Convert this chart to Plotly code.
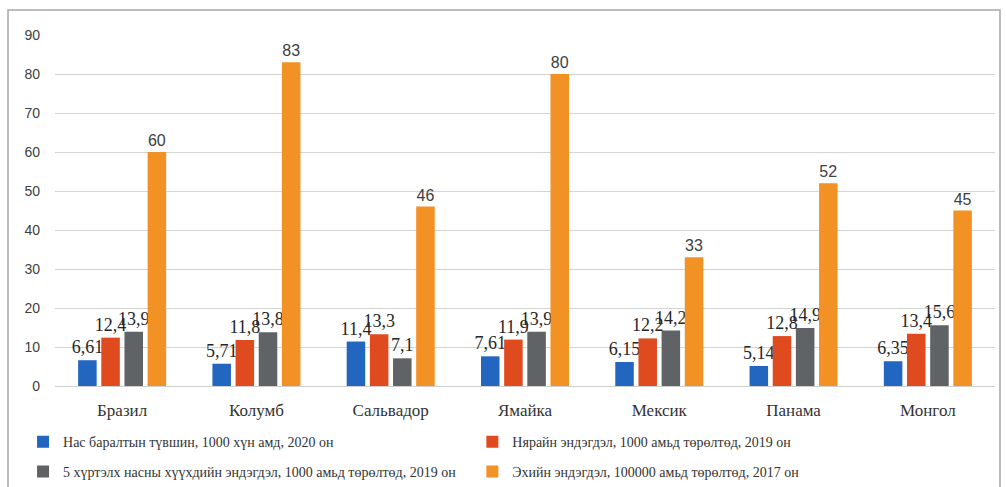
import plotly.graph_objects as go

countries = ["Бразил", "Колумб", "Сальвадор", "Ямайка", "Мексик", "Панама", "Монгол"]

series_names = [
    "Нас баралтын түвшин, 1000 хүн амд, 2020 он",
    "Нярайн эндэгдэл, 1000 амьд төрөлтөд, 2019 он",
    "5 хүртэлх насны хүүхдийн эндэгдэл, 1000 амьд төрөлтөд, 2019 он",
    "Эхийн эндэгдэл, 100000 амьд төрөлтөд, 2017 он",
]

mortality_rate = [6.61, 5.71, 11.4, 7.61, 6.15, 5.14, 6.35]
infant_mortality = [12.4, 11.8, 13.3, 11.9, 12.2, 12.8, 13.4]
under5_mortality = [13.9, 13.8, 7.1, 13.9, 14.2, 14.9, 15.6]
maternal_mortality = [60, 83, 46, 80, 33, 52, 45]

colors = ["#2366c0", "#e04a1f", "#5f6366", "#f39224"]
y_ticks = [0, 10, 20, 30, 40, 50, 60, 70, 80, 90]

# one legend box per series, laid out as a 2x2 grid below the plot
legend_ids = ["legend", "legend2", "legend3", "legend4"]
legend_pos = [(-0.034, 0.092), (0.444, 0.092), (-0.034, 0.031), (0.444, 0.031)]


def fmt(v):
    return f"{v:g}".replace(".", ",")


fig = go.Figure()
all_series = [mortality_rate, infant_mortality, under5_mortality, maternal_mortality]
for i, (name, vals, col) in enumerate(zip(series_names, all_series, colors)):
    is_maternal = i == 3
    fig.add_trace(go.Bar(
        x=countries,
        y=vals,
        name=name,
        legend=legend_ids[i],
        marker=dict(color=col, line=dict(width=0)),
        text=[fmt(v) for v in vals],
        textposition="outside",
        constraintext="none",
        cliponaxis=False,
        textfont=dict(
            family="Liberation Sans" if is_maternal else "Liberation Serif",
            size=16 if is_maternal else 18,
            color="#404040" if is_maternal else "#262626",
        ),
    ))

legend_style = dict(
    orientation="h",
    xref="paper",
    yref="container",
    xanchor="left",
    yanchor="middle",
    itemwidth=30,
    font=dict(family="Liberation Serif", size=14, color="#333333"),
    bgcolor="rgba(0,0,0,0)",
)
legends = {
    lid: dict(legend_style, x=px, y=py)
    for lid, (px, py) in zip(legend_ids, legend_pos)
}

fig.update_layout(
    width=1006,
    height=487,
    margin=dict(l=55, r=11, t=35, b=101, autoexpand=False),
    paper_bgcolor="white",
    plot_bgcolor="white",
    barmode="group",
    bargap=0.31,
    bargroupgap=0.2,
    showlegend=True,
    **legends,
    xaxis=dict(
        showgrid=False,
        showline=False,
        ticks="",
        ticklabelstandoff=12,
        tickfont=dict(family="Liberation Serif", size=17, color="#333333"),
    ),
    yaxis=dict(
        range=[0, 90],
        tickvals=y_ticks,
        showgrid=True,
        gridcolor="#d4d4d4",
        gridwidth=1,
        zeroline=True,
        zerolinecolor="#cfcfcf",
        zerolinewidth=1,
        showline=False,
        ticks="",
        ticklabelstandoff=14,
        tickfont=dict(family="Liberation Sans", size=14, color="#404040"),
    ),
    shapes=[
        dict(
            type="rect",
            xref="paper", yref="paper",
            x0=-0.05, x1=1.0053, y0=-0.32, y1=1.071,
            line=dict(color="#a6a6a6", width=1.5),
            fillcolor="rgba(0,0,0,0)",
            layer="below",
        )
    ],
)

fig.write_html("out.html")
